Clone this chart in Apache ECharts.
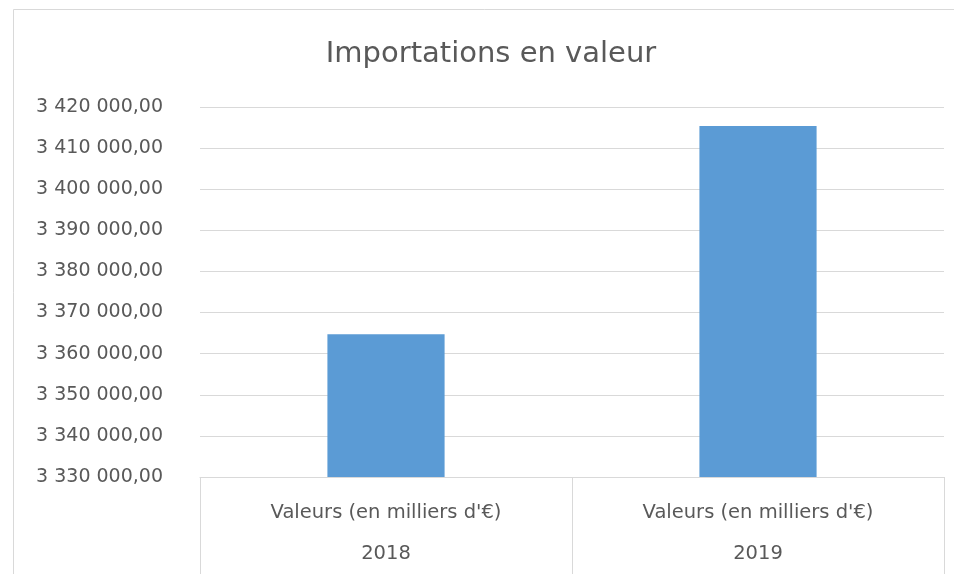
<!DOCTYPE html>
<html>
<head>
<meta charset="utf-8">
<script src="https://cdn.jsdelivr.net/npm/echarts@6/dist/echarts.min.js"></script>
<style>html,body{margin:0;padding:0;background:#fff;}#c{width:954px;height:574px;}</style>
</head>
<body>
<div id="c"></div>
<script>
const titleText = "Importations en valeur";
const seriesLabel = "Valeurs (en milliers d'€)";
const years = ["2018", "2019"];
const values = [3364700, 3415400];
const yMin = 3330000, yMax = 3420000, yStep = 10000;

function fmt(v) {
  const s = Math.round(v).toString().replace(/\B(?=(\d{3})+(?!\d))/g, ' ');
  return s + ',00';
}

const chart = echarts.init(document.getElementById('c'), null, {renderer: 'canvas'});
const font = 'DejaVu Sans';
chart.setOption({
  animation: false,
  backgroundColor: '#fff',
  graphic: [{
    type: 'rect', shape: {x: 13.5, y: 9.5, width: 1000, height: 700},
    style: {fill: 'none', stroke: '#d9d9d9', lineWidth: 1}, silent: true
  }],
  title: {
    text: titleText, left: 486, top: 35, textAlign: 'center',
    textStyle: {fontFamily: font, fontSize: 29, fontWeight: 'normal', color: '#595959'}
  },
  grid: {left: 200, right: 10, top: 107, bottom: 96, containLabel: false},
  xAxis: {
    type: 'category', data: years,
    axisLine: {show: true, lineStyle: {color: '#d9d9d9', width: 1}},
    axisTick: {show: true, interval: 0, length: 100, lineStyle: {color: '#d9d9d9', width: 1}},
    axisLabel: {
      interval: 0, margin: 15, color: '#595959', fontFamily: font, fontSize: 19.5, lineHeight: 41,
      formatter: (v) => seriesLabel + '\n' + v
    }
  },
  yAxis: {
    type: 'value', min: yMin, max: yMax, interval: yStep,
    axisLine: {show: false}, axisTick: {show: false},
    splitLine: {lineStyle: {color: '#d9d9d9', width: 1}},
    axisLabel: {margin: 37, color: '#595959', fontFamily: font, fontSize: 19, formatter: fmt}
  },
  series: [{
    type: 'bar', data: values, barWidth: '31.5%',
    itemStyle: {color: '#5b9bd5'}
  }]
});
</script>
</body>
</html>
